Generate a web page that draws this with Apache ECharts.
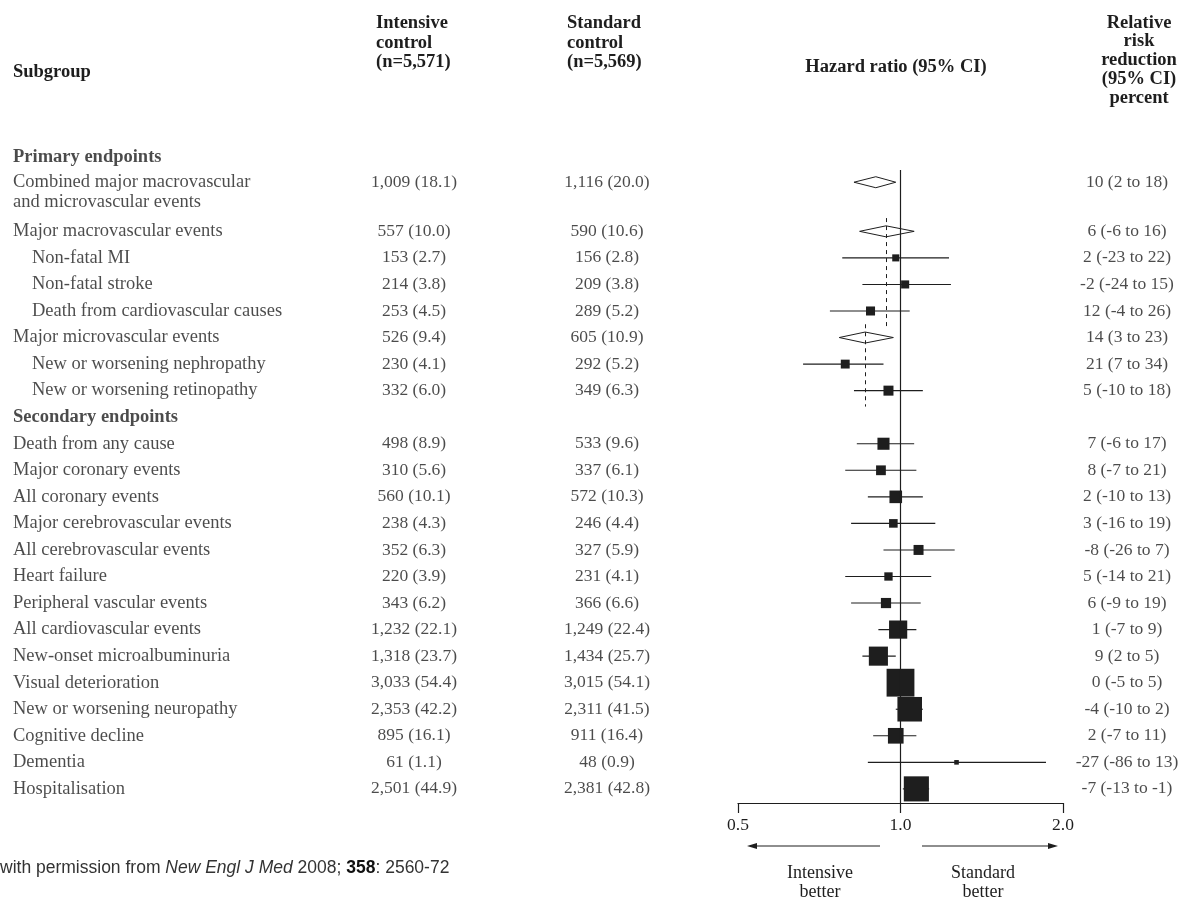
<!DOCTYPE html>
<html><head><meta charset="utf-8">
<script src="https://cdn.jsdelivr.net/npm/echarts@6/dist/echarts.min.js"></script>
<style>html,body{margin:0;padding:0;background:#fff}#c{width:1184px;height:899px}</style>
</head><body><div id="c"></div>
<script>
// ---------------- DATA ----------------
const subgroups = [
  'Primary endpoints',
  'Combined major macrovascular\nand microvascular events',
  'Major macrovascular events',
  'Non-fatal MI',
  'Non-fatal stroke',
  'Death from cardiovascular causes',
  'Major microvascular events',
  'New or worsening nephropathy',
  'New or worsening retinopathy',
  'Secondary endpoints',
  'Death from any cause',
  'Major coronary events',
  'All coronary events',
  'Major cerebrovascular events',
  'All cerebrovascular events',
  'Heart failure',
  'Peripheral vascular events',
  'All cardiovascular events',
  'New-onset microalbuminuria',
  'Visual deterioration',
  'New or worsening neuropathy',
  'Cognitive decline',
  'Dementia',
  'Hospitalisation'
];
// 0 = section header, 1 = endpoint, 2 = component endpoint (indented)
const levels = [0,1,1,2,2,2,1,2,2,0,1,1,1,1,1,1,1,1,1,1,1,1,1,1];
const intensiveEvents = [null,1009,557,153,214,253,526,230,332,null,498,310,560,238,352,220,343,1232,1318,3033,2353,895,61,2501];
const intensivePct    = [null,18.1,10.0,2.7,3.8,4.5,9.4,4.1,6.0,null,8.9,5.6,10.1,4.3,6.3,3.9,6.2,22.1,23.7,54.4,42.2,16.1,1.1,44.9];
const standardEvents  = [null,1116,590,156,209,289,605,292,349,null,533,337,572,246,327,231,366,1249,1434,3015,2311,911,48,2381];
const standardPct     = [null,20.0,10.6,2.8,3.8,5.2,10.9,5.2,6.3,null,9.6,6.1,10.3,4.4,5.9,4.1,6.6,22.4,25.7,54.1,41.5,16.4,0.9,42.8];
const hazardRatio = [null,0.90,0.94,0.98,1.02,0.88,0.86,0.79,0.95,null,0.93,0.92,0.98,0.97,1.08,0.95,0.94,0.99,0.91,1.00,1.04,0.98,1.27,1.07];
const ciLow       = [null,0.82,0.84,0.78,0.85,0.74,0.77,0.66,0.82,null,0.83,0.79,0.87,0.81,0.93,0.79,0.81,0.91,0.85,0.95,0.98,0.89,0.87,1.01];
const ciHigh      = [null,0.98,1.06,1.23,1.24,1.04,0.97,0.93,1.10,null,1.06,1.07,1.10,1.16,1.26,1.14,1.09,1.07,0.98,1.05,1.10,1.07,1.86,1.13];
const pooled      = [false,true,true,false,false,false,true,false,false,false,false,false,false,false,false,false,false,false,false,false,false,false,false,false];
const rrrText = [null,'10 (2 to 18)','6 (-6 to 16)','2 (-23 to 22)','-2 (-24 to 15)','12 (-4 to 26)','14 (3 to 23)','21 (7 to 34)','5 (-10 to 18)',null,
  '7 (-6 to 17)','8 (-7 to 21)','2 (-10 to 13)','3 (-16 to 19)','-8 (-26 to 7)','5 (-14 to 21)','6 (-9 to 19)','1 (-7 to 9)','9 (2 to 5)','0 (-5 to 5)','-4 (-10 to 2)','2 (-7 to 11)','-27 (-86 to 13)','-7 (-13 to -1)'];
const xTicks = [0.5, 1, 2];
const headerIntensive = 'Intensive\ncontrol\n(n=5,571)';
const headerStandard = 'Standard\ncontrol\n(n=5,569)';
const headerHR = 'Hazard ratio (95% CI)';
const headerRRR = 'Relative\nrisk\nreduction\n(95% CI)\npercent';
const headerSubgroup = 'Subgroup';
const sideLabels = ['Intensive\nbetter', 'Standard\nbetter'];

// ---------------- LAYOUT ----------------
const W = 1184, H = 899;
const Y0 = 157, U = 26.55, AXIS_Y = 803;
const yMax = (AXIS_Y - Y0) / U;
const SERIF = '"Liberation Serif", "Times New Roman", serif';
const SANS = '"Liberation Sans", Arial, sans-serif';
const INK = '#1e1e1e';
function slot(i) { return i === 0 ? 0 : (i === 1 ? 0.95 : i + 0.8); }
const fmt = n => n.toLocaleString('en-US');

const COL_NAME = 13, COL_INDENT = 32, COL_INT = 414, COL_STD = 607, COL_RRR = 1127;

const textData = [];
subgroups.forEach((name, i) => {
  const s = slot(i);
  const multi = name.indexOf('\n') >= 0;
  textData.push({
    value: [levels[i] === 2 ? COL_INDENT : COL_NAME, s], name,
    label: { align: 'left', fontWeight: levels[i] === 0 ? 'bold' : 'normal',
      fontSize: 18.5, lineHeight: 20, offset: multi ? [0, 10] : [0, 0] }
  });
  if (intensiveEvents[i] != null) {
    textData.push({ value: [COL_INT, s], name: fmt(intensiveEvents[i]) + ' (' + intensivePct[i].toFixed(1) + ')',
      label: { align: 'center', fontSize: 17.5 } });
    textData.push({ value: [COL_STD, s], name: fmt(standardEvents[i]) + ' (' + standardPct[i].toFixed(1) + ')',
      label: { align: 'center', fontSize: 17.5 } });
    textData.push({ value: [COL_RRR, s], name: rrrText[i], label: { align: 'center', fontSize: 17.5 } });
  }
});

const forestData = [];
subgroups.forEach((name, i) => {
  if (hazardRatio[i] == null) return;
  forestData.push([hazardRatio[i], ciLow[i], ciHigh[i], slot(i), pooled[i] ? 1 : 0,
    intensiveEvents[i] + standardEvents[i]]);
});

// line of no effect + dashed reference lines for pooled sub-analyses
const refLines = [
  { coord: [1, 0.49], end: [1, yMax], style: { type: 'solid', color: INK, width: 1.2 } }
];
subgroups.forEach((name, i) => {
  if (!pooled[i] || levels[i + 1] !== 2) return;
  let j = i + 1; while (levels[j + 1] === 2) j++;
  refLines.push({ coord: [hazardRatio[i], slot(i) - 0.5], end: [hazardRatio[i], slot(j) + 0.6],
    style: { type: [4, 4], color: INK, width: 1 } });
});

const chart = echarts.init(document.getElementById('c'), null, { renderer: 'canvas' });
const gridTop = Y0 - U, gridBottom = H - AXIS_Y;

const option = {
  backgroundColor: '#fff',
  animation: false,
  textStyle: { fontFamily: SERIF, color: INK },
  grid: [
    { left: 738, right: W - 1063, top: gridTop, bottom: gridBottom, containLabel: false },
    { left: 0, right: 0, top: gridTop, bottom: gridBottom, containLabel: false }
  ],
  xAxis: [
    { gridIndex: 0, type: 'log', logBase: 2, min: 0.5, max: 2, position: 'bottom',
      axisLine: { show: true, onZero: false, lineStyle: { color: INK, width: 1.2 } },
      axisTick: { show: true, inside: false, length: 10, lineStyle: { color: INK, width: 1.2 }, customValues: xTicks },
      axisLabel: { show: true, margin: 13, fontFamily: SERIF, fontSize: 17.5, color: INK,
        customValues: xTicks, formatter: v => Number(v).toFixed(1) },
      splitLine: { show: false }, minorTick: { show: false } },
    { gridIndex: 1, type: 'value', min: 0, max: W, show: false }
  ],
  yAxis: [
    { gridIndex: 0, type: 'value', inverse: true, min: -1, max: yMax, show: false },
    { gridIndex: 1, type: 'value', inverse: true, min: -1, max: yMax, show: false }
  ],
  series: [
    {
      type: 'scatter', xAxisIndex: 1, yAxisIndex: 1, symbolSize: 1, silent: true, clip: false,
      itemStyle: { color: 'rgba(0,0,0,0)' },
      label: { show: true, position: 'inside', formatter: '{b}', color: INK, fontFamily: SERIF,
        verticalAlign: 'middle' },
      data: textData, z: 3
    },
    {
      type: 'custom', xAxisIndex: 0, yAxisIndex: 0, clip: false, silent: true,
      encode: { x: 0, y: 3 },
      renderItem: (params, api) => {
        const hr = api.value(0), lo = api.value(1), hi = api.value(2), s = api.value(3);
        const kind = api.value(4), n = api.value(5);
        const c = api.coord([hr, s]), l = api.coord([lo, s]), h = api.coord([hi, s]);
        if (kind === 1) {
          const hh = 5.5;
          return { type: 'polygon', shape: { points: [[l[0], c[1]], [c[0], c[1] - hh], [h[0], c[1]], [c[0], c[1] + hh]] },
            style: { fill: 'none', stroke: INK, lineWidth: 1 } };
        }
        // box area proportional to the number of events
        const sz = 1 + 0.345 * Math.sqrt(n);
        return { type: 'group', children: [
          { type: 'line', shape: { x1: l[0], y1: c[1], x2: h[0], y2: c[1] }, style: { stroke: INK, lineWidth: 1.1 } },
          { type: 'rect', shape: { x: c[0] - sz / 2, y: c[1] - sz / 2, width: sz, height: sz }, style: { fill: INK } }
        ] };
      },
      markLine: {
        silent: true, symbol: ['none', 'none'], label: { show: false }, animation: false,
        data: refLines.map(r => [{ coord: r.coord, lineStyle: r.style }, { coord: r.end }])
      },
      data: forestData, z: 4
    }
  ],
  graphic: [
    { type: 'text', style: { x: COL_NAME, y: 72, text: headerSubgroup, font: 'bold 18.5px ' + SERIF, fill: INK, verticalAlign: 'middle', align: 'left' } },
    { type: 'text', style: { x: 376, y: 13.5, text: headerIntensive, font: 'bold 18.5px ' + SERIF, lineHeight: 19.5, fill: INK, verticalAlign: 'top', align: 'left' } },
    { type: 'text', style: { x: 567, y: 13.5, text: headerStandard, font: 'bold 18.5px ' + SERIF, lineHeight: 19.5, fill: INK, verticalAlign: 'top', align: 'left' } },
    { type: 'text', style: { x: 896, y: 67, text: headerHR, font: 'bold 18.5px ' + SERIF, fill: INK, verticalAlign: 'middle', align: 'center' } },
    { type: 'text', style: { x: 1139, y: 13.5, text: headerRRR, font: 'bold 18.5px ' + SERIF, lineHeight: 18.8, fill: INK, verticalAlign: 'top', align: 'center' } },
    // direction arrows
    { type: 'line', shape: { x1: 880, y1: 846, x2: 750, y2: 846 }, style: { stroke: INK, lineWidth: 1.1 } },
    { type: 'polygon', shape: { points: [[747, 846], [757, 843], [757, 849]] }, style: { fill: INK } },
    { type: 'line', shape: { x1: 922, y1: 846, x2: 1054, y2: 846 }, style: { stroke: INK, lineWidth: 1.1 } },
    { type: 'polygon', shape: { points: [[1058, 846], [1048, 843], [1048, 849]] }, style: { fill: INK } },
    { type: 'text', style: { x: 820, y: 864, text: sideLabels[0], font: '18px ' + SERIF, lineHeight: 19, fill: INK, verticalAlign: 'top', align: 'center' } },
    { type: 'text', style: { x: 983, y: 864, text: sideLabels[1], font: '18px ' + SERIF, lineHeight: 19, fill: INK, verticalAlign: 'top', align: 'center' } },
    // source note
    { type: 'text', style: { x: 0, y: 868, text: 'with permission from {i|New Engl J Med} 2008; {b|358}: 2560-72',
      fontFamily: SANS, fontSize: 17.5, fill: '#333', verticalAlign: 'middle', align: 'left',
      rich: { i: { fontStyle: 'italic', fontFamily: SANS, fontSize: 17.5, fill: '#333' },
              b: { fontWeight: 'bold', fontFamily: SANS, fontSize: 17.5, fill: '#111' } } } }
  ]
};
chart.setOption(option);
</script>
</body></html>
